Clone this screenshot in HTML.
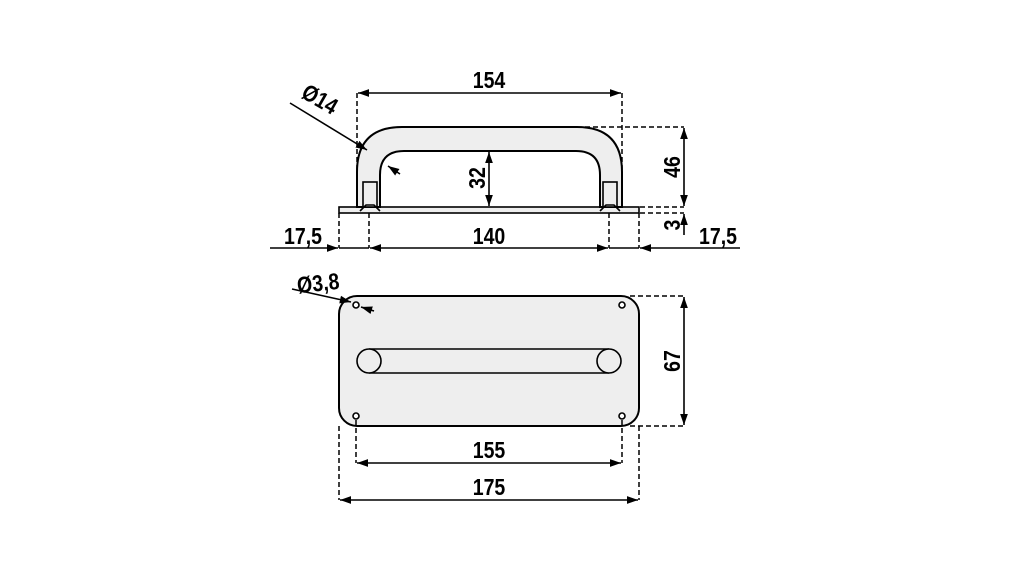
<!DOCTYPE html>
<html><head><meta charset="utf-8"><style>
html,body{margin:0;padding:0;background:#fff;}
svg{display:block}
text{font-family:"Liberation Sans",sans-serif;font-weight:bold;font-size:23px;fill:#000}
</style></head><body>
<svg width="1021" height="567" viewBox="0 0 1021 567" xmlns="http://www.w3.org/2000/svg">
<defs>
<marker id="a" viewBox="0 0 10 10" refX="10" refY="5" markerWidth="7" markerHeight="7" orient="auto-start-reverse"><path d="M0,1.5 L10,5 L0,8.5 z" fill="#000"/></marker>
</defs>
<g stroke="#000" fill="none" stroke-width="1.6">
<rect x="339" y="207" width="300" height="6" fill="#eee"/>
<path d="M357,207 L357,172 Q357,127 402,127 L577,127 Q622,127 622,172 L622,207 L600,207 L600,175 Q600,151 576,151 L404,151 Q380,151 380,175 L380,207 Z" fill="#eee" stroke-width="2"/>
<rect x="363" y="182" width="14" height="25" fill="#eee"/>
<rect x="603" y="182" width="14" height="25" fill="#eee"/>
<path d="M360,211 L366,205 L374,205 L380,211" />
<path d="M600,211 L606,205 L614,205 L620,211" />
<g stroke-dasharray="5,3" stroke-width="1.5">
<line x1="357" y1="93" x2="357" y2="170"/>
<line x1="622" y1="93" x2="622" y2="170"/>
<line x1="585" y1="127" x2="684" y2="127"/>
<line x1="640" y1="207" x2="684" y2="207"/>
<line x1="640" y1="213" x2="684" y2="213"/>
<line x1="339" y1="213" x2="339" y2="248"/>
<line x1="369" y1="213" x2="369" y2="248"/>
<line x1="609" y1="213" x2="609" y2="248"/>
<line x1="639" y1="213" x2="639" y2="248"/>
</g>
<line x1="358" y1="93" x2="621" y2="93" marker-start="url(#a)" marker-end="url(#a)"/>
<line x1="684" y1="128" x2="684" y2="206" marker-start="url(#a)" marker-end="url(#a)"/>
<line x1="684" y1="235" x2="684" y2="214" marker-end="url(#a)"/>
<line x1="489" y1="152" x2="489" y2="206" marker-start="url(#a)" marker-end="url(#a)"/>
<line x1="270" y1="248" x2="338" y2="248" marker-end="url(#a)"/>
<line x1="339" y1="248" x2="369" y2="248"/>
<line x1="370" y1="248" x2="608" y2="248" marker-start="url(#a)" marker-end="url(#a)"/>
<line x1="609" y1="248" x2="639" y2="248"/>
<line x1="740" y1="248" x2="640" y2="248" marker-end="url(#a)"/>
<line x1="290" y1="103" x2="367" y2="150" marker-end="url(#a)"/>
<line x1="400" y1="174" x2="388" y2="166" marker-end="url(#a)"/>
<rect x="339" y="296" width="300" height="130" rx="18" fill="#eee" stroke-width="2"/>
<path d="M369,349 L609,349 M369,373 L609,373"/>
<circle cx="369" cy="361" r="12" fill="#eee"/>
<circle cx="609" cy="361" r="12" fill="#eee"/>
<circle cx="356" cy="305" r="3" fill="#fff"/>
<circle cx="622" cy="305" r="3" fill="#fff"/>
<circle cx="356" cy="416" r="3" fill="#fff"/>
<circle cx="622" cy="416" r="3" fill="#fff"/>
<g stroke-dasharray="5,3" stroke-width="1.5">
<line x1="630" y1="296" x2="684" y2="296"/>
<line x1="630" y1="426" x2="684" y2="426"/>
<line x1="356" y1="420" x2="356" y2="463"/>
<line x1="622" y1="420" x2="622" y2="463"/>
<line x1="339" y1="426" x2="339" y2="500"/>
<line x1="639" y1="426" x2="639" y2="500"/>
</g>
<line x1="684" y1="297" x2="684" y2="425" marker-start="url(#a)" marker-end="url(#a)"/>
<line x1="357" y1="463" x2="621" y2="463" marker-start="url(#a)" marker-end="url(#a)"/>
<line x1="340" y1="500" x2="638" y2="500" marker-start="url(#a)" marker-end="url(#a)"/>
<line x1="292" y1="289" x2="351" y2="302" marker-end="url(#a)"/>
<line x1="374" y1="311" x2="361" y2="307" marker-end="url(#a)"/>
</g>
<g text-anchor="middle">
<text transform="translate(489,88) scale(0.85,1)">154</text>
<text transform="translate(303,244) scale(0.85,1)">17,5</text>
<text transform="translate(489,244) scale(0.85,1)">140</text>
<text transform="translate(718,244) scale(0.85,1)">17,5</text>
<text transform="translate(485,178) rotate(-90) scale(0.85,1)">32</text>
<text transform="translate(680,167) rotate(-90) scale(0.85,1)">46</text>
<text transform="translate(680,225) rotate(-90) scale(0.85,1)">3</text>
<text transform="translate(680,361) rotate(-90) scale(0.85,1)">67</text>
<text transform="translate(316,106) rotate(30) scale(0.85,1)">Ø14</text>
<text transform="translate(319,291) rotate(-6) scale(0.85,1)">Ø3,8</text>
<text transform="translate(489,458) scale(0.85,1)">155</text>
<text transform="translate(489,495) scale(0.85,1)">175</text>
</g>
</svg>
</body></html>
